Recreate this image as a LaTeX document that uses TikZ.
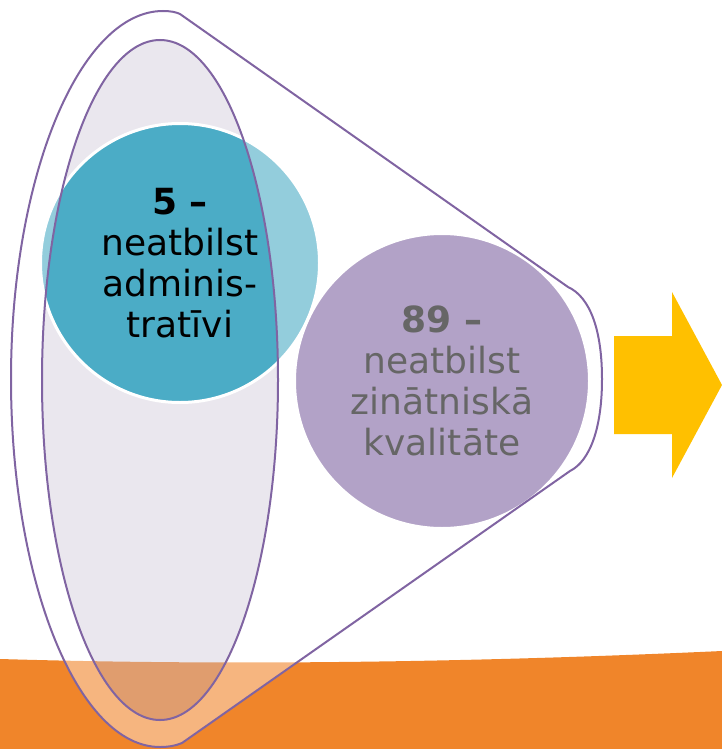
\documentclass[tikz,border=0pt]{standalone}
\usepackage{fontspec}
\setmainfont{DejaVu Sans}
\usepackage{tikz}
\definecolor{funnelpurple}{HTML}{8064A2}
\definecolor{mouthgray}{RGB}{202,195,212}
\definecolor{adminteal}{HTML}{4BACC6}
\definecolor{bandorange}{HTML}{F0852A}
\definecolor{arrowyellow}{HTML}{FFC000}
\tikzset{
    bubble/.style={circle, draw=white, line width=3pt, inner sep=0pt, align=center, text=black, font=\fontsize{36}{41}\selectfont},
    rim/.style={draw=funnelpurple, line width=2pt}
}

\begin{document}
\begin{tikzpicture}[x=1pt, y=-1pt]
    \useasboundingbox (0,0) rectangle (722,749);
    % orange ground band
    \fill[bandorange] (0,659) .. controls (240,666) and (480,662) .. (722,651) -- (722,749) -- (0,749) -- cycle;
    % mouth of the funnel
    \fill[mouthgray, opacity=0.4] (160,380) ellipse [x radius=118, y radius=340];
    \node[bubble, fill=adminteal, minimum size=279pt] (admin) at (180,263) {\textbf{5 –}\\neatbilst\\adminis-\\tratīvi};
    \node[bubble, fill=funnelpurple, minimum size=295pt] (quality) at (442,381) {\textbf{89 –}\\neatbilst\\zinātniskā\\kvalitāte};
    % funnel body, lighter outside the mouth
    \path[rim, fill=white, fill opacity=0.4, even odd rule]
        (180,14) -- (568,287) .. controls (590,297) and (602,330) .. (602,379)
        .. controls (602,428) and (590,461) .. (570,471) -- (182,743)
        .. controls (175,746) and (168,747) .. (160,747)
        .. controls (78,747) and (11,582) .. (11,379)
        .. controls (11,176) and (80,11) .. (163,11)
        .. controls (170,11) and (176,12) .. (180,14) -- cycle
        (160,380) ellipse [x radius=118, y radius=340];
    % arrow out of the funnel
    \fill[arrowyellow] (614,336) -- (672,336) -- (672,292) -- (722,385) -- (672,478) -- (672,434) -- (614,434) -- cycle;
\end{tikzpicture}
\end{document}
